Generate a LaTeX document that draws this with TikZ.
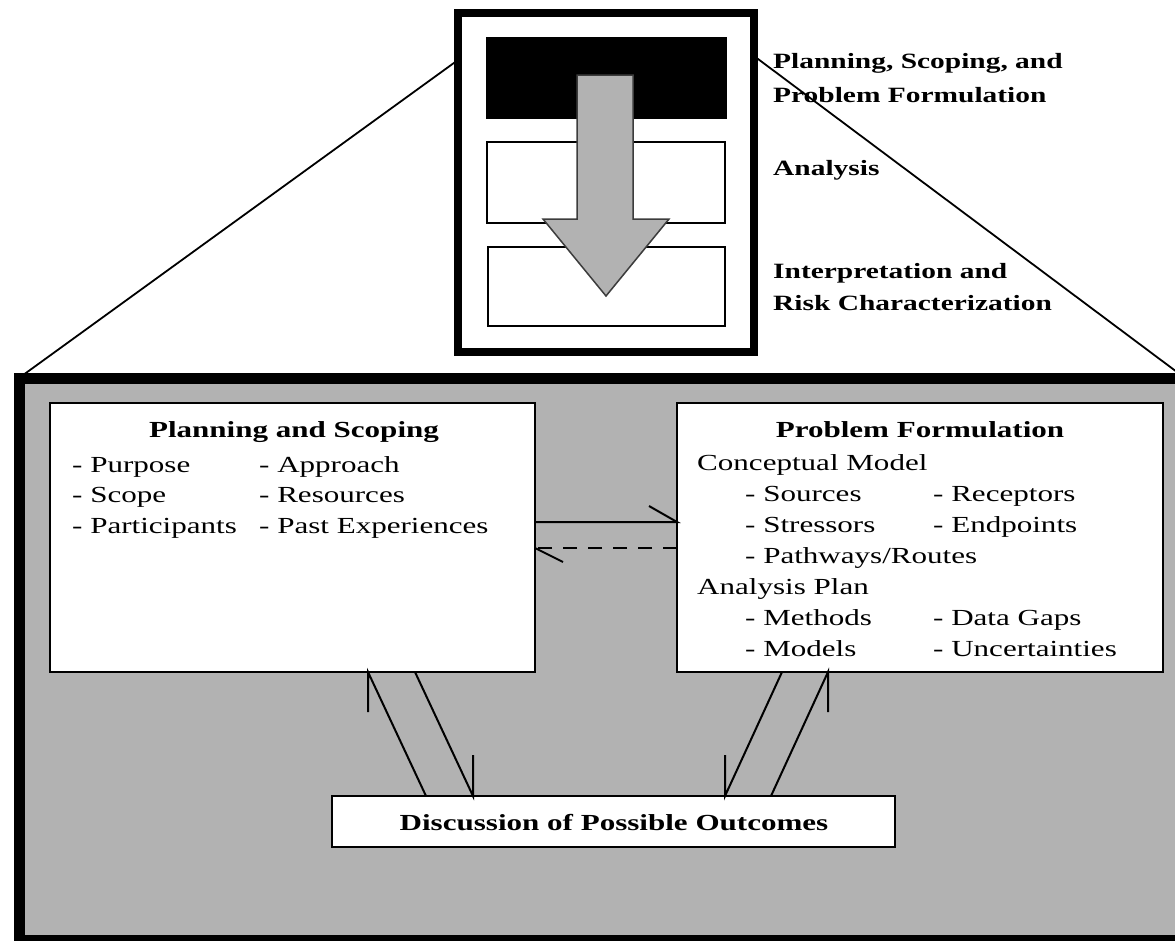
\documentclass[tikz,border=0pt]{standalone}
\usepackage{fontspec}
\setmainfont[FakeStretch=1.35]{Liberation Serif}
\usetikzlibrary{calc}
\definecolor{panelgray}{RGB}{178,178,178}
\definecolor{arrowedge}{RGB}{60,60,60}

\begin{document}
\begin{tikzpicture}[x=1pt,y=-1pt,
  txt/.style={anchor=base west,inner sep=0pt,font=\fontsize{23}{31}\selectfont},
  ttl/.style={anchor=base,inner sep=0pt,font=\fontsize{23}{31}\selectfont\bfseries},
  lbl/.style={anchor=base west,inner sep=0pt,font=\fontsize{21.8}{33}\selectfont\bfseries},
  panel/.style={draw,line width=2pt,fill=white,anchor=north west,inner sep=0pt,outer sep=0pt},
  phasebox/.style={draw,line width=1.5pt,fill=white,anchor=north west,inner sep=0pt,outer sep=0pt},
  link/.style={line width=2pt},
  backlink/.style={line width=2pt,dash pattern=on 14pt off 11pt},
]
\useasboundingbox (0,0) rectangle (1175,940);

% large gray panel
\node[draw,line width=11pt,fill=panelgray,anchor=north west,inner sep=0pt,outer sep=0pt,
      minimum width=1166pt,minimum height=562pt] (frame) at (19,378) {};

% overview box with the three phases
\node[draw,line width=8pt,fill=white,anchor=north west,inner sep=0pt,outer sep=0pt,
      minimum width=296pt,minimum height=339pt] (overview) at (458,13) {};
\node[phasebox,fill=black,minimum width=239pt,minimum height=80pt] (phase1) at (487,38) {};
\node[phasebox,minimum width=238pt,minimum height=81pt] (phase2) at (487,142) {};
\node[phasebox,minimum width=237pt,minimum height=79pt] (phase3) at (488,247) {};

% downward block arrow across the phases
\draw[fill=panelgray,draw=arrowedge,line width=1.5pt,line join=miter]
  (577,75) -- (633,75) -- (633,219) -- (669,219) -- (606,296) -- (543,219) -- (577,219) -- cycle;

% zoom lines from the overview to the panel
\draw[line width=1.8pt] ($(overview.north west)+(0,47)$) -- (frame.north west);
\draw[line width=1.8pt] ($(overview.north east)+(0,43)$) -- (frame.north east);

% phase labels
\node[lbl] (l1a) at (773,68) {Planning, Scoping, and};
\node[lbl] (l1b) at (773,102) {Problem Formulation};
\node[lbl] (l2) at (773,175) {Analysis};
\node[lbl] (l3a) at (773,278) {Interpretation and};
\node[lbl] (l3b) at (773,310) {Risk Characterization};

% inner boxes
\node[panel,minimum width=485pt,minimum height=269pt] (ps) at (50,403) {};
\node[panel,minimum width=486pt,minimum height=269pt] (pf) at (677,403) {};
\node[panel,minimum width=563pt,minimum height=51pt] (disc) at (332,796) {};

% Planning and Scoping text
\node[ttl] (pst) at (294,437) {Planning and Scoping};
\node[txt] (ps1) at (72,472) {- Purpose};
\node[txt] (ps2) at (72,502) {- Scope};
\node[txt] (ps3) at (72,533) {- Participants};
\node[txt] (ps4) at (259,472) {- Approach};
\node[txt] (ps5) at (259,502) {- Resources};
\node[txt] (ps6) at (259,533) {- Past Experiences};

% Problem Formulation text
\node[ttl] (pft) at (920,437) {Problem Formulation};
\node[txt] (pf1) at (697,470) {Conceptual Model};
\node[txt] (pf2) at (745,501) {- Sources};
\node[txt] (pf3) at (745,532) {- Stressors};
\node[txt] (pf4) at (745,563) {- Pathways/Routes};
\node[txt] (pf5) at (933,501) {- Receptors};
\node[txt] (pf6) at (933,532) {- Endpoints};
\node[txt] (pf7) at (697,594) {Analysis Plan};
\node[txt] (pf8) at (745,625) {- Methods};
\node[txt] (pf9) at (745,656) {- Models};
\node[txt] (pf10) at (933,625) {- Data Gaps};
\node[txt] (pf11) at (933,656) {- Uncertainties};

% Discussion text
\node[ttl] (dt) at (614,830) {Discussion of Possible Outcomes};

% connectors between the boxes, with half arrowheads
\coordinate (s1) at ($(ps.north east)+(0,119)$);
\coordinate (t1) at ($(pf.north west)+(0,119)$);
\draw[link] (s1) -- (t1) -- ++(-28,-16);
\coordinate (s2) at ($(pf.north west)+(0,145)$);
\coordinate (t2) at ($(ps.north east)+(0,145)$);
\draw[backlink] (s2) -- (t2);
\draw[link] (t2) -- ++(28,14);

\coordinate (d1) at ($(disc.north west)+(94,0)$);
\coordinate (p1) at ($(ps.south west)+(318,0)$);
\draw[link] (d1) -- (p1) -- ++(0,40);
\coordinate (p2) at ($(ps.south west)+(365,0)$);
\coordinate (d2) at ($(disc.north west)+(141,0)$);
\draw[link] (p2) -- (d2) -- ++(0,-41);

\coordinate (p3) at ($(pf.south west)+(105,0)$);
\coordinate (d3) at ($(disc.north west)+(393,0)$);
\draw[link] (p3) -- (d3) -- ++(0,-41);
\coordinate (d4) at ($(disc.north west)+(439,0)$);
\coordinate (p4) at ($(pf.south west)+(151,0)$);
\draw[link] (d4) -- (p4) -- ++(0,40);
\end{tikzpicture}
\end{document}
